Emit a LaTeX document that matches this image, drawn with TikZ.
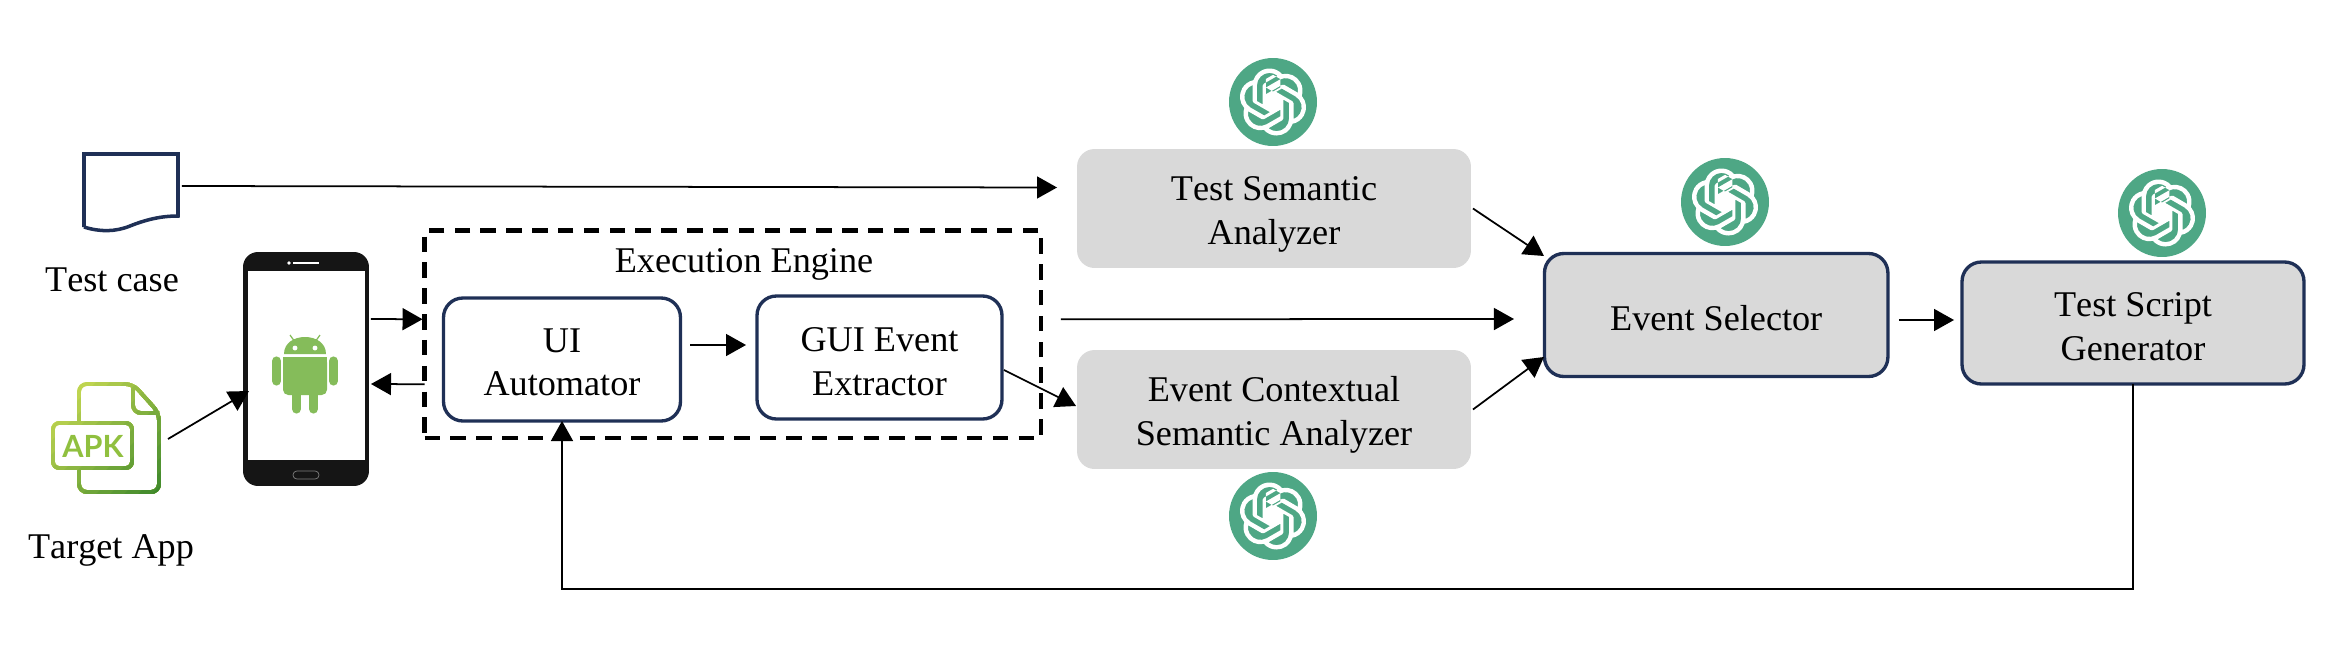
\documentclass[tikz,border=0pt]{standalone}
\usepackage{fontspec}
\setmainfont[Kerning=Off]{Liberation Serif}
\newfontfamily\apkfont{Lato}
\usetikzlibrary{arrows.meta,svg.path}
\definecolor{boxnavy}{HTML}{1F3056}
\definecolor{boxgray}{HTML}{D9D9D9}
\definecolor{gptgreen}{HTML}{4EA785}
\definecolor{droidgreen}{HTML}{85BC5A}
\definecolor{apklight}{HTML}{D2E056}
\definecolor{apkdark}{HTML}{3C872B}
\definecolor{apktext}{HTML}{90C03F}
\definecolor{phoneblack}{HTML}{151515}
\tikzset{
	bodytext/.style={font=\fontsize{20.6}{25}\selectfont, align=center, inner sep=0, outer sep=0},
	grayblock/.style={bodytext, fill=boxgray, rounded corners=10pt},
	engineblock/.style={bodytext, draw=boxnavy, line width=1.9pt, rounded corners=11pt},
	mainblock/.style={engineblock, fill=boxgray},
	engineframe/.style={draw, line width=2.67pt, dash pattern=on 8.8pt off 5.9pt, inner sep=0, outer sep=0},
	flow/.style={-{Triangle[length=11.4pt,width=12.5pt]}, line width=1pt},
	gptdisc/.style={circle, fill=gptgreen, minimum size=1.76cm, inner sep=0},
	droidlimb/.style={draw=droidgreen, line width=5.2pt, line cap=round},
	apkline/.style={line width=2.1pt, rounded corners=4.5pt},
	hidden/.style={inner sep=0, outer sep=0},
}
\newcommand{\textdrop}[1]{\rule{0pt}{#1}}
\newcommand{\gptlogo}[2]{
	\node[gptdisc] (#1) at (#2) {};
	\fill[white, shift={(#1.center)}, xscale=1.59, yscale=-1.59, shift={(-12pt,-12pt)}] svg {M22.2819 9.8211a5.9847 5.9847 0 0 0-.5157-4.9108 6.0462 6.0462 0 0 0-6.5098-2.9A6.0651 6.0651 0 0 0 4.9807 4.1818a5.9847 5.9847 0 0 0-3.9977 2.9 6.0462 6.0462 0 0 0 .7427 7.0966 5.98 5.98 0 0 0 .511 4.9107 6.051 6.051 0 0 0 6.5146 2.9001A5.9847 5.9847 0 0 0 13.2599 24a6.0557 6.0557 0 0 0 5.7718-4.2058 5.9894 5.9894 0 0 0 3.9977-2.9001 6.0557 6.0557 0 0 0-.7475-7.0729zm-9.022 12.6081a4.4755 4.4755 0 0 1-2.8764-1.0408l.1419-.0804 4.7783-2.7582a.7948.7948 0 0 0 .3927-.6813v-6.7369l2.02 1.1686a.071.071 0 0 1 .038.052v5.5826a4.504 4.504 0 0 1-4.4945 4.4944zm-9.6607-4.1254a4.4708 4.4708 0 0 1-.5346-3.0137l.142.0852 4.783 2.7582a.7712.7712 0 0 0 .7806 0l5.8428-3.3685v2.3324a.0804.0804 0 0 1-.0332.0615L9.74 19.9502a4.4992 4.4992 0 0 1-6.1408-1.6464zM2.3408 7.8956a4.485 4.485 0 0 1 2.3655-1.9728V11.6a.7664.7664 0 0 0 .3879.6765l5.8144 3.3543-2.0201 1.1685a.0757.0757 0 0 1-.071 0l-4.8303-2.7865A4.504 4.504 0 0 1 2.3408 7.872zm16.5963 3.8558L13.1038 8.364 15.1192 7.2a.0757.0757 0 0 1 .071 0l4.8303 2.7913a4.4944 4.4944 0 0 1-.6765 8.1042v-5.6772a.79.79 0 0 0-.407-.667zm2.0107-3.0231l-.142-.0852-4.7735-2.7818a.7759.7759 0 0 0-.7854 0L9.409 9.2297V6.8974a.0662.0662 0 0 1 .0284-.0615l4.8303-2.7866a4.4992 4.4992 0 0 1 6.6802 4.66zM8.3065 12.863l-2.02-1.1638a.0804.0804 0 0 1-.038-.0567V6.0742a4.4992 4.4992 0 0 1 7.3757-3.4537l-.142.0805L8.704 5.459a.7948.7948 0 0 0-.3927.6813zm1.0976-2.3654l2.602-1.4998 2.6069 1.4998v2.9994l-2.5974 1.4997-2.6067-1.4997Z};
}
\begin{document}
\begin{tikzpicture}[x=0.02cm, y=-0.02cm]
\useasboundingbox (0,0) rectangle (2334,656);
% test case and target app
\node[hidden, minimum width=1.88cm, minimum height=1.48cm] (testdoc) at (131,190) {};
\draw[draw=boxnavy, line width=2pt] (84,227) -- (84,154) -- (178,154) -- (178,216) .. controls (160,216) and (145,220) .. (130,226) .. controls (115,232) and (100,232) .. (84,227);
\node[bodytext, anchor=base] (testlabel) at (112,291) {Test case};
\node[hidden, minimum width=1.6cm, minimum height=2.16cm] (apk) at (119,438) {};
\foreach \i in {0,...,15} {
	\pgfmathsetmacro{\t}{436+14*\i}
	\pgfmathsetmacro{\m}{100*\i/15}
	\colorlet{apkmix}{apkdark!\m!apklight}
	\begin{scope}
	\clip (\t-370,370) -- (\t-510,510) -- (400,510) -- (400,370) -- cycle;
	\draw[apkline, draw=apkmix] (79,423) -- (79,384) -- (133,384) -- (159,413) -- (159,492) -- (79,492) -- (79,468);
	\draw[apkline, draw=apkmix] (133,386) -- (133,413) -- (159,413);
	\draw[apkline, draw=apkmix, rounded corners=3.5pt] (53,423) rectangle (132,468);
	\end{scope}
}
\node[hidden, text=apktext, font=\apkfont\bfseries\fontsize{17.4}{20}\selectfont, anchor=base] (apktag) at (93,457) {APK};
\node[bodytext, anchor=base] (applabel) at (111,558) {Target App};
% phone
\node[hidden, fill=phoneblack, rounded corners=8.5pt, minimum width=2.52cm, minimum height=4.68cm] (phone) at (306,369) {};
\node[hidden, fill=white, minimum width=2.34cm, minimum height=3.78cm] (screen) at (306.5,365.5) {};
\fill[white] (289,263) circle (1.1pt);
\draw[white, line width=1pt] (293,263) -- (319,263);
\draw[gray, line width=0.4pt, rounded corners=2.2pt] (293,471) rectangle (319,479);
\fill[droidgreen] (284,354) .. controls (284,343) and (294,337) .. (305,337) .. controls (316,337) and (326,343) .. (326,354) -- cycle;
\fill[droidgreen, rounded corners=3pt] (283,357) -- (283,395) -- (327,395) -- (327,357) -- cycle;
\fill[droidgreen] (283,357) rectangle (327,380);
\draw[droidlimb] (276.5,361) -- (276.5,381);
\draw[droidlimb] (333.5,361) -- (333.5,381);
\draw[droidlimb] (296.5,392) -- (296.5,409);
\draw[droidlimb] (313.5,392) -- (313.5,409);
\draw[droidgreen, line width=0.7pt] (290,335) -- (295,342);
\draw[droidgreen, line width=0.7pt] (320,335) -- (315,342);
\fill[white] (295,348) circle (1.4pt);
\fill[white] (315,348) circle (1.4pt);
% execution engine
\node[engineframe, minimum width=12.33cm, minimum height=4.15cm] (engine) at (732.75,334.25) {};
\node[bodytext, anchor=base] (enginelabel) at (744,272) {Execution Engine};
\node[engineblock, minimum width=4.74cm, minimum height=2.46cm] (automator) at (562,359.5) {\textdrop{16.7pt}UI\\Automator};
\node[engineblock, minimum width=4.9cm, minimum height=2.46cm] (extractor) at (879.5,357.5) {\textdrop{17.9pt}GUI Event\\Extractor};
% analyzers
\node[grayblock, minimum width=7.88cm, minimum height=2.38cm] (testsem) at (1274,208.5) {\textdrop{20.9pt}Test Semantic\\Analyzer};
\node[grayblock, minimum width=7.88cm, minimum height=2.38cm] (eventsem) at (1274,409.5) {\textdrop{20.9pt}Event Contextual\\Semantic Analyzer};
\node[mainblock, minimum width=6.87cm, minimum height=2.46cm] (selector) at (1716.2,315) {\textdrop{17.5pt}Event Selector};
\node[mainblock, minimum width=6.84cm, minimum height=2.44cm] (generator) at (2133,323) {\textdrop{17.5pt}Test Script\\Generator};
\gptlogo{gpttest}{1273,102}
\gptlogo{gptevent}{1273,516}
\gptlogo{gptselect}{1725,202}
\gptlogo{gptscript}{2162,213}
% connectors
\coordinate (loopcorner) at (562,589);
\path[flow] ([shift={(4,-4)}]testdoc.east) edge ([shift={(-20,-21)}]testsem.west);
\path[flow] ([shift={(9,1)}]apk.east) edge ([shift={(6,22)}]phone.west);
\path[flow] ([shift={(2,-50)}]phone.east) edge ([shift={(-2,-15)}]engine.west);
\path[flow] ([shift={(0,50)}]engine.west) edge ([shift={(2,15)}]phone.east);
\path[flow] ([shift={(10,-14.5)}]automator.east) edge ([shift={(-11,-12.5)}]extractor.west);
\path[flow] ([shift={(2,12.5)}]extractor.east) edge ([shift={(-1,-3.5)}]eventsem.west);
\path[flow] ([shift={(20,-15)}]engine.east) edge ([shift={(-30.5,4)}]selector.west);
\path[flow] ([shift={(2,0)}]testsem.east) edge ([shift={(-0.5,2.5)}]selector.north west);
\path[flow] ([shift={(2,0)}]eventsem.east) edge ([shift={(-0.5,-19.5)}]selector.south west);
\path[flow] ([shift={(11,5)}]selector.east) edge ([shift={(-8,-3)}]generator.west);
\draw[flow] (generator.south) |- (loopcorner) -- (automator.south);
\end{tikzpicture}
\end{document}
